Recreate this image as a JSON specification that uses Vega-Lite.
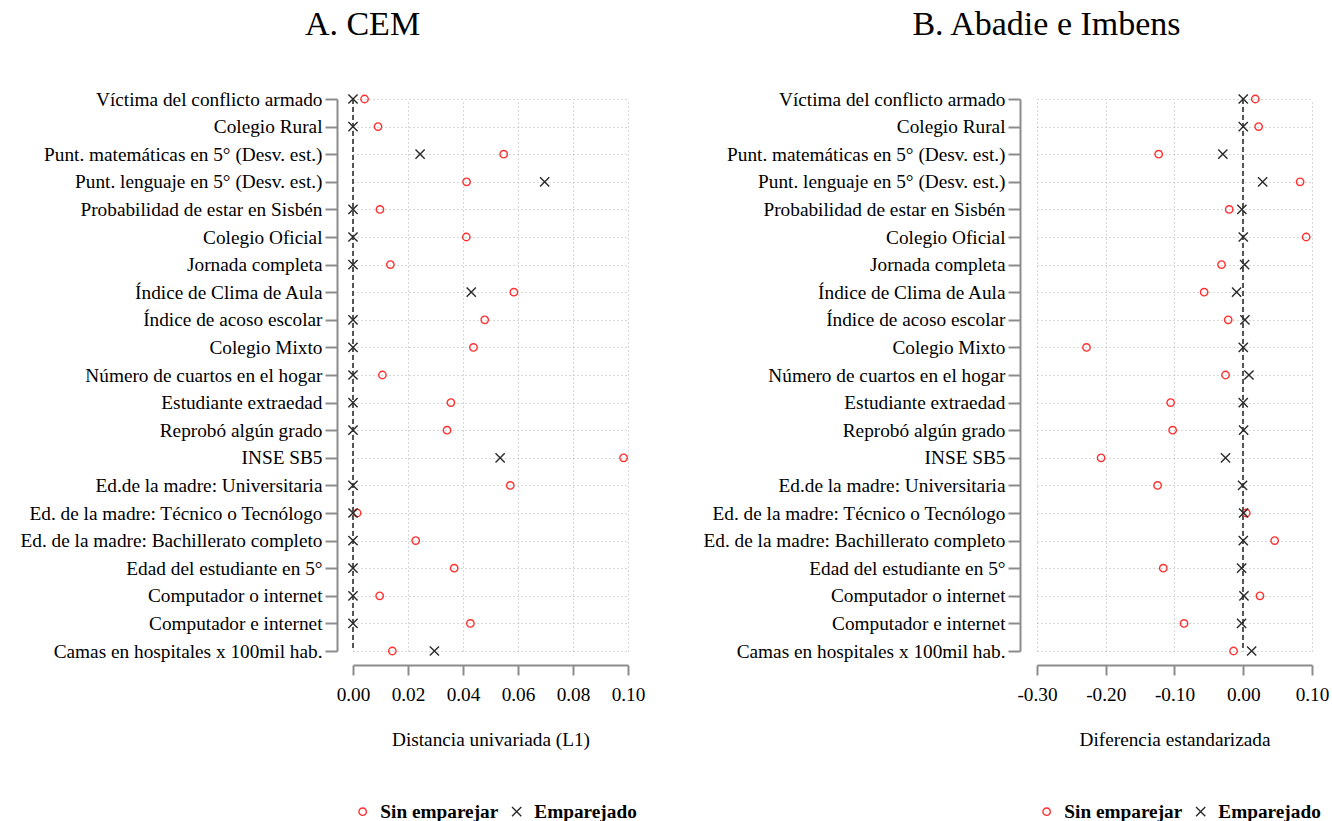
{
  "$schema": "https://vega.github.io/schema/vega-lite/v6.json",
  "padding": {"left": 20, "top": 8, "right": 0, "bottom": 0},
  "background": "white",
  "datasets": {
    "d": [
      {"panel": "A", "variable": "Víctima del conflicto armado", "tipo": "Sin emparejar", "valor": 0.0042},
      {"panel": "A", "variable": "Víctima del conflicto armado", "tipo": "Emparejado", "valor": 0.0},
      {"panel": "A", "variable": "Colegio Rural", "tipo": "Sin emparejar", "valor": 0.0091},
      {"panel": "A", "variable": "Colegio Rural", "tipo": "Emparejado", "valor": 0.0},
      {"panel": "A", "variable": "Punt. matemáticas en 5° (Desv. est.)", "tipo": "Sin emparejar", "valor": 0.0548},
      {"panel": "A", "variable": "Punt. matemáticas en 5° (Desv. est.)", "tipo": "Emparejado", "valor": 0.0244},
      {"panel": "A", "variable": "Punt. lenguaje en 5° (Desv. est.)", "tipo": "Sin emparejar", "valor": 0.0413},
      {"panel": "A", "variable": "Punt. lenguaje en 5° (Desv. est.)", "tipo": "Emparejado", "valor": 0.0697},
      {"panel": "A", "variable": "Probabilidad de estar en Sisbén", "tipo": "Sin emparejar", "valor": 0.0098},
      {"panel": "A", "variable": "Probabilidad de estar en Sisbén", "tipo": "Emparejado", "valor": 0.0},
      {"panel": "A", "variable": "Colegio Oficial", "tipo": "Sin emparejar", "valor": 0.0412},
      {"panel": "A", "variable": "Colegio Oficial", "tipo": "Emparejado", "valor": 0.0},
      {"panel": "A", "variable": "Jornada completa", "tipo": "Sin emparejar", "valor": 0.0136},
      {"panel": "A", "variable": "Jornada completa", "tipo": "Emparejado", "valor": 0.0},
      {"panel": "A", "variable": "Índice de Clima de Aula", "tipo": "Sin emparejar", "valor": 0.0585},
      {"panel": "A", "variable": "Índice de Clima de Aula", "tipo": "Emparejado", "valor": 0.043},
      {"panel": "A", "variable": "Índice de acoso escolar", "tipo": "Sin emparejar", "valor": 0.0479},
      {"panel": "A", "variable": "Índice de acoso escolar", "tipo": "Emparejado", "valor": 0.0},
      {"panel": "A", "variable": "Colegio Mixto", "tipo": "Sin emparejar", "valor": 0.0438},
      {"panel": "A", "variable": "Colegio Mixto", "tipo": "Emparejado", "valor": 0.0},
      {"panel": "A", "variable": "Número de cuartos en el hogar", "tipo": "Sin emparejar", "valor": 0.0107},
      {"panel": "A", "variable": "Número de cuartos en el hogar", "tipo": "Emparejado", "valor": 0.0},
      {"panel": "A", "variable": "Estudiante extraedad", "tipo": "Sin emparejar", "valor": 0.0356},
      {"panel": "A", "variable": "Estudiante extraedad", "tipo": "Emparejado", "valor": 0.0},
      {"panel": "A", "variable": "Reprobó algún grado", "tipo": "Sin emparejar", "valor": 0.0342},
      {"panel": "A", "variable": "Reprobó algún grado", "tipo": "Emparejado", "valor": 0.0},
      {"panel": "A", "variable": "INSE SB5", "tipo": "Sin emparejar", "valor": 0.0984},
      {"panel": "A", "variable": "INSE SB5", "tipo": "Emparejado", "valor": 0.0535},
      {"panel": "A", "variable": "Ed.de la madre: Universitaria", "tipo": "Sin emparejar", "valor": 0.0572},
      {"panel": "A", "variable": "Ed.de la madre: Universitaria", "tipo": "Emparejado", "valor": 0.0},
      {"panel": "A", "variable": "Ed. de la madre: Técnico o Tecnólogo", "tipo": "Sin emparejar", "valor": 0.0015},
      {"panel": "A", "variable": "Ed. de la madre: Técnico o Tecnólogo", "tipo": "Emparejado", "valor": 0.0},
      {"panel": "A", "variable": "Ed. de la madre: Bachillerato completo", "tipo": "Sin emparejar", "valor": 0.0228},
      {"panel": "A", "variable": "Ed. de la madre: Bachillerato completo", "tipo": "Emparejado", "valor": 0.0},
      {"panel": "A", "variable": "Edad del estudiante en 5°", "tipo": "Sin emparejar", "valor": 0.0368},
      {"panel": "A", "variable": "Edad del estudiante en 5°", "tipo": "Emparejado", "valor": 0.0},
      {"panel": "A", "variable": "Computador o internet", "tipo": "Sin emparejar", "valor": 0.0097},
      {"panel": "A", "variable": "Computador o internet", "tipo": "Emparejado", "valor": 0.0},
      {"panel": "A", "variable": "Computador e internet", "tipo": "Sin emparejar", "valor": 0.0427},
      {"panel": "A", "variable": "Computador e internet", "tipo": "Emparejado", "valor": 0.0},
      {"panel": "A", "variable": "Camas en hospitales x 100mil hab.", "tipo": "Sin emparejar", "valor": 0.0143},
      {"panel": "A", "variable": "Camas en hospitales x 100mil hab.", "tipo": "Emparejado", "valor": 0.0296},
      {"panel": "B", "variable": "Víctima del conflicto armado", "tipo": "Sin emparejar", "valor": 0.0175},
      {"panel": "B", "variable": "Víctima del conflicto armado", "tipo": "Emparejado", "valor": 0.0},
      {"panel": "B", "variable": "Colegio Rural", "tipo": "Sin emparejar", "valor": 0.0224},
      {"panel": "B", "variable": "Colegio Rural", "tipo": "Emparejado", "valor": 0.0},
      {"panel": "B", "variable": "Punt. matemáticas en 5° (Desv. est.)", "tipo": "Sin emparejar", "valor": -0.123},
      {"panel": "B", "variable": "Punt. matemáticas en 5° (Desv. est.)", "tipo": "Emparejado", "valor": -0.0297},
      {"panel": "B", "variable": "Punt. lenguaje en 5° (Desv. est.)", "tipo": "Sin emparejar", "valor": 0.0827},
      {"panel": "B", "variable": "Punt. lenguaje en 5° (Desv. est.)", "tipo": "Emparejado", "valor": 0.0282},
      {"panel": "B", "variable": "Probabilidad de estar en Sisbén", "tipo": "Sin emparejar", "valor": -0.0204},
      {"panel": "B", "variable": "Probabilidad de estar en Sisbén", "tipo": "Emparejado", "valor": -0.002},
      {"panel": "B", "variable": "Colegio Oficial", "tipo": "Sin emparejar", "valor": 0.0915},
      {"panel": "B", "variable": "Colegio Oficial", "tipo": "Emparejado", "valor": 0.0},
      {"panel": "B", "variable": "Jornada completa", "tipo": "Sin emparejar", "valor": -0.0316},
      {"panel": "B", "variable": "Jornada completa", "tipo": "Emparejado", "valor": 0.002},
      {"panel": "B", "variable": "Índice de Clima de Aula", "tipo": "Sin emparejar", "valor": -0.0569},
      {"panel": "B", "variable": "Índice de Clima de Aula", "tipo": "Emparejado", "valor": -0.0097},
      {"panel": "B", "variable": "Índice de acoso escolar", "tipo": "Sin emparejar", "valor": -0.0219},
      {"panel": "B", "variable": "Índice de acoso escolar", "tipo": "Emparejado", "valor": 0.0024},
      {"panel": "B", "variable": "Colegio Mixto", "tipo": "Sin emparejar", "valor": -0.228},
      {"panel": "B", "variable": "Colegio Mixto", "tipo": "Emparejado", "valor": 0.0},
      {"panel": "B", "variable": "Número de cuartos en el hogar", "tipo": "Sin emparejar", "valor": -0.0258},
      {"panel": "B", "variable": "Número de cuartos en el hogar", "tipo": "Emparejado", "valor": 0.0083},
      {"panel": "B", "variable": "Estudiante extraedad", "tipo": "Sin emparejar", "valor": -0.1056},
      {"panel": "B", "variable": "Estudiante extraedad", "tipo": "Emparejado", "valor": 0.0},
      {"panel": "B", "variable": "Reprobó algún grado", "tipo": "Sin emparejar", "valor": -0.1027},
      {"panel": "B", "variable": "Reprobó algún grado", "tipo": "Emparejado", "valor": 0.0005},
      {"panel": "B", "variable": "INSE SB5", "tipo": "Sin emparejar", "valor": -0.2068},
      {"panel": "B", "variable": "INSE SB5", "tipo": "Emparejado", "valor": -0.0258},
      {"panel": "B", "variable": "Ed.de la madre: Universitaria", "tipo": "Sin emparejar", "valor": -0.1246},
      {"panel": "B", "variable": "Ed.de la madre: Universitaria", "tipo": "Emparejado", "valor": -0.001},
      {"panel": "B", "variable": "Ed. de la madre: Técnico o Tecnólogo", "tipo": "Sin emparejar", "valor": 0.0044},
      {"panel": "B", "variable": "Ed. de la madre: Técnico o Tecnólogo", "tipo": "Emparejado", "valor": 0.0005},
      {"panel": "B", "variable": "Ed. de la madre: Bachillerato completo", "tipo": "Sin emparejar", "valor": 0.0457},
      {"panel": "B", "variable": "Ed. de la madre: Bachillerato completo", "tipo": "Emparejado", "valor": 0.0},
      {"panel": "B", "variable": "Edad del estudiante en 5°", "tipo": "Sin emparejar", "valor": -0.1163},
      {"panel": "B", "variable": "Edad del estudiante en 5°", "tipo": "Emparejado", "valor": -0.0024},
      {"panel": "B", "variable": "Computador o internet", "tipo": "Sin emparejar", "valor": 0.0243},
      {"panel": "B", "variable": "Computador o internet", "tipo": "Emparejado", "valor": 0.001},
      {"panel": "B", "variable": "Computador e internet", "tipo": "Sin emparejar", "valor": -0.0861},
      {"panel": "B", "variable": "Computador e internet", "tipo": "Emparejado", "valor": -0.0024},
      {"panel": "B", "variable": "Camas en hospitales x 100mil hab.", "tipo": "Sin emparejar", "valor": -0.0141},
      {"panel": "B", "variable": "Camas en hospitales x 100mil hab.", "tipo": "Emparejado", "valor": 0.0122}
    ]
  },
  "hconcat": [
    {
      "title": {"text": "A.  CEM", "dx": -128, "offset": 48},
      "width": 275,
      "height": 552,
      "data": {"name": "d"},
      "transform": [{"filter": "datum.panel == 'A'"}],
      "layer": [
        {
          "mark": {"type": "rule", "color": "#555555", "strokeDash": [5, 3], "strokeWidth": 1.5},
          "encoding": {"x": {"datum": 0, "type": "quantitative"}}
        },
        {
          "mark": {"type": "point", "filled": false, "strokeWidth": 1.4, "opacity": 1},
          "encoding": {
            "y": {"field": "variable", "type": "nominal", "sort": null, "scale": {"type": "point", "padding": 0},
                  "axis": {"title": null, "offset": 16}},
            "x": {"field": "valor", "type": "quantitative",
                  "scale": {"domain": [0, 0.1], "nice": false, "zero": false},
                  "axis": {"title": "Distancia univariada (L1)", "values": [0, 0.02, 0.04, 0.06, 0.08, 0.1], "format": ".2f", "offset": 14}},
            "color": {"field": "tipo", "type": "nominal", "scale": {"domain": ["Sin emparejar", "Emparejado"], "range": ["#ff3030", "#2a2a2a"]}, "legend": {"title": null}},
            "shape": {"field": "tipo", "type": "nominal", "scale": {"domain": ["Sin emparejar", "Emparejado"], "range": ["circle", "M-1,-1L1,1M-1,1L1,-1"]}, "legend": {"title": null}},
            "size": {"field": "tipo", "type": "nominal", "scale": {"domain": ["Sin emparejar", "Emparejado"], "range": [55, 85]}, "legend": {"title": null}}
          }
        }
      ]
    },
    {
      "title": {"text": "B.  Abadie e Imbens", "dx": -128, "offset": 48},
      "width": 275,
      "height": 552,
      "data": {"name": "d"},
      "transform": [{"filter": "datum.panel == 'B'"}],
      "layer": [
        {
          "mark": {"type": "rule", "color": "#555555", "strokeDash": [5, 3], "strokeWidth": 1.5},
          "encoding": {"x": {"datum": 0, "type": "quantitative"}}
        },
        {
          "mark": {"type": "point", "filled": false, "strokeWidth": 1.4, "opacity": 1},
          "encoding": {
            "y": {"field": "variable", "type": "nominal", "sort": null, "scale": {"type": "point", "padding": 0},
                  "axis": {"title": null, "offset": 17}},
            "x": {"field": "valor", "type": "quantitative",
                  "scale": {"domain": [-0.3, 0.1], "nice": false, "zero": false},
                  "axis": {"title": "Diferencia estandarizada", "values": [-0.3, -0.2, -0.1, 0, 0.1], "labelExpr": "(datum.value < -0.0001 ? '-' : '') + format(abs(datum.value), '.2f')", "offset": 14}},
            "color": {"field": "tipo", "type": "nominal", "scale": {"domain": ["Sin emparejar", "Emparejado"], "range": ["#ff3030", "#2a2a2a"]}, "legend": {"title": null}},
            "shape": {"field": "tipo", "type": "nominal", "scale": {"domain": ["Sin emparejar", "Emparejado"], "range": ["circle", "M-1,-1L1,1M-1,1L1,-1"]}, "legend": {"title": null}},
            "size": {"field": "tipo", "type": "nominal", "scale": {"domain": ["Sin emparejar", "Emparejado"], "range": [55, 85]}, "legend": {"title": null}}
          }
        }
      ]
    }
  ],
  "spacing": 58,
  "resolve": {"legend": {"color": "independent", "shape": "independent", "size": "independent"}, "scale": {"color": "independent", "shape": "independent", "size": "independent"}},
  "config": {
    "font": "Liberation Serif",
    "view": {"stroke": null},
    "title": {"fontSize": 34, "fontWeight": "normal", "color": "#000000", "anchor": "middle", "font": "Liberation Serif"},
    "axis": {
      "domainColor": "#8c8c8c", "domainWidth": 2, "tickColor": "#8c8c8c", "tickWidth": 2,
      "labelFont": "Liberation Serif", "labelFontSize": 19.3, "labelColor": "#000000",
      "titleFont": "Liberation Serif", "titleFontSize": 19.3, "titleFontWeight": "normal", "titleColor": "#000000",
      "grid": true, "gridColor": "#b0b0b0", "gridDash": [1, 3], "gridWidth": 1, "labelLimit": 500
    },
    "axisY": {"tickSize": 12, "labelPadding": 3},
    "axisX": {"tickSize": 10, "labelPadding": 10, "titlePadding": 26, "labelFlush": false},
    "legend": {
      "orient": "bottom", "direction": "horizontal", "offset": 52,
      "labelFont": "Liberation Serif", "labelFontSize": 19.3, "labelFontWeight": "bold", "labelColor": "#000000",
      "symbolStrokeWidth": 1.4, "columnPadding": 8, "labelOffset": 8
    }
  }
}
